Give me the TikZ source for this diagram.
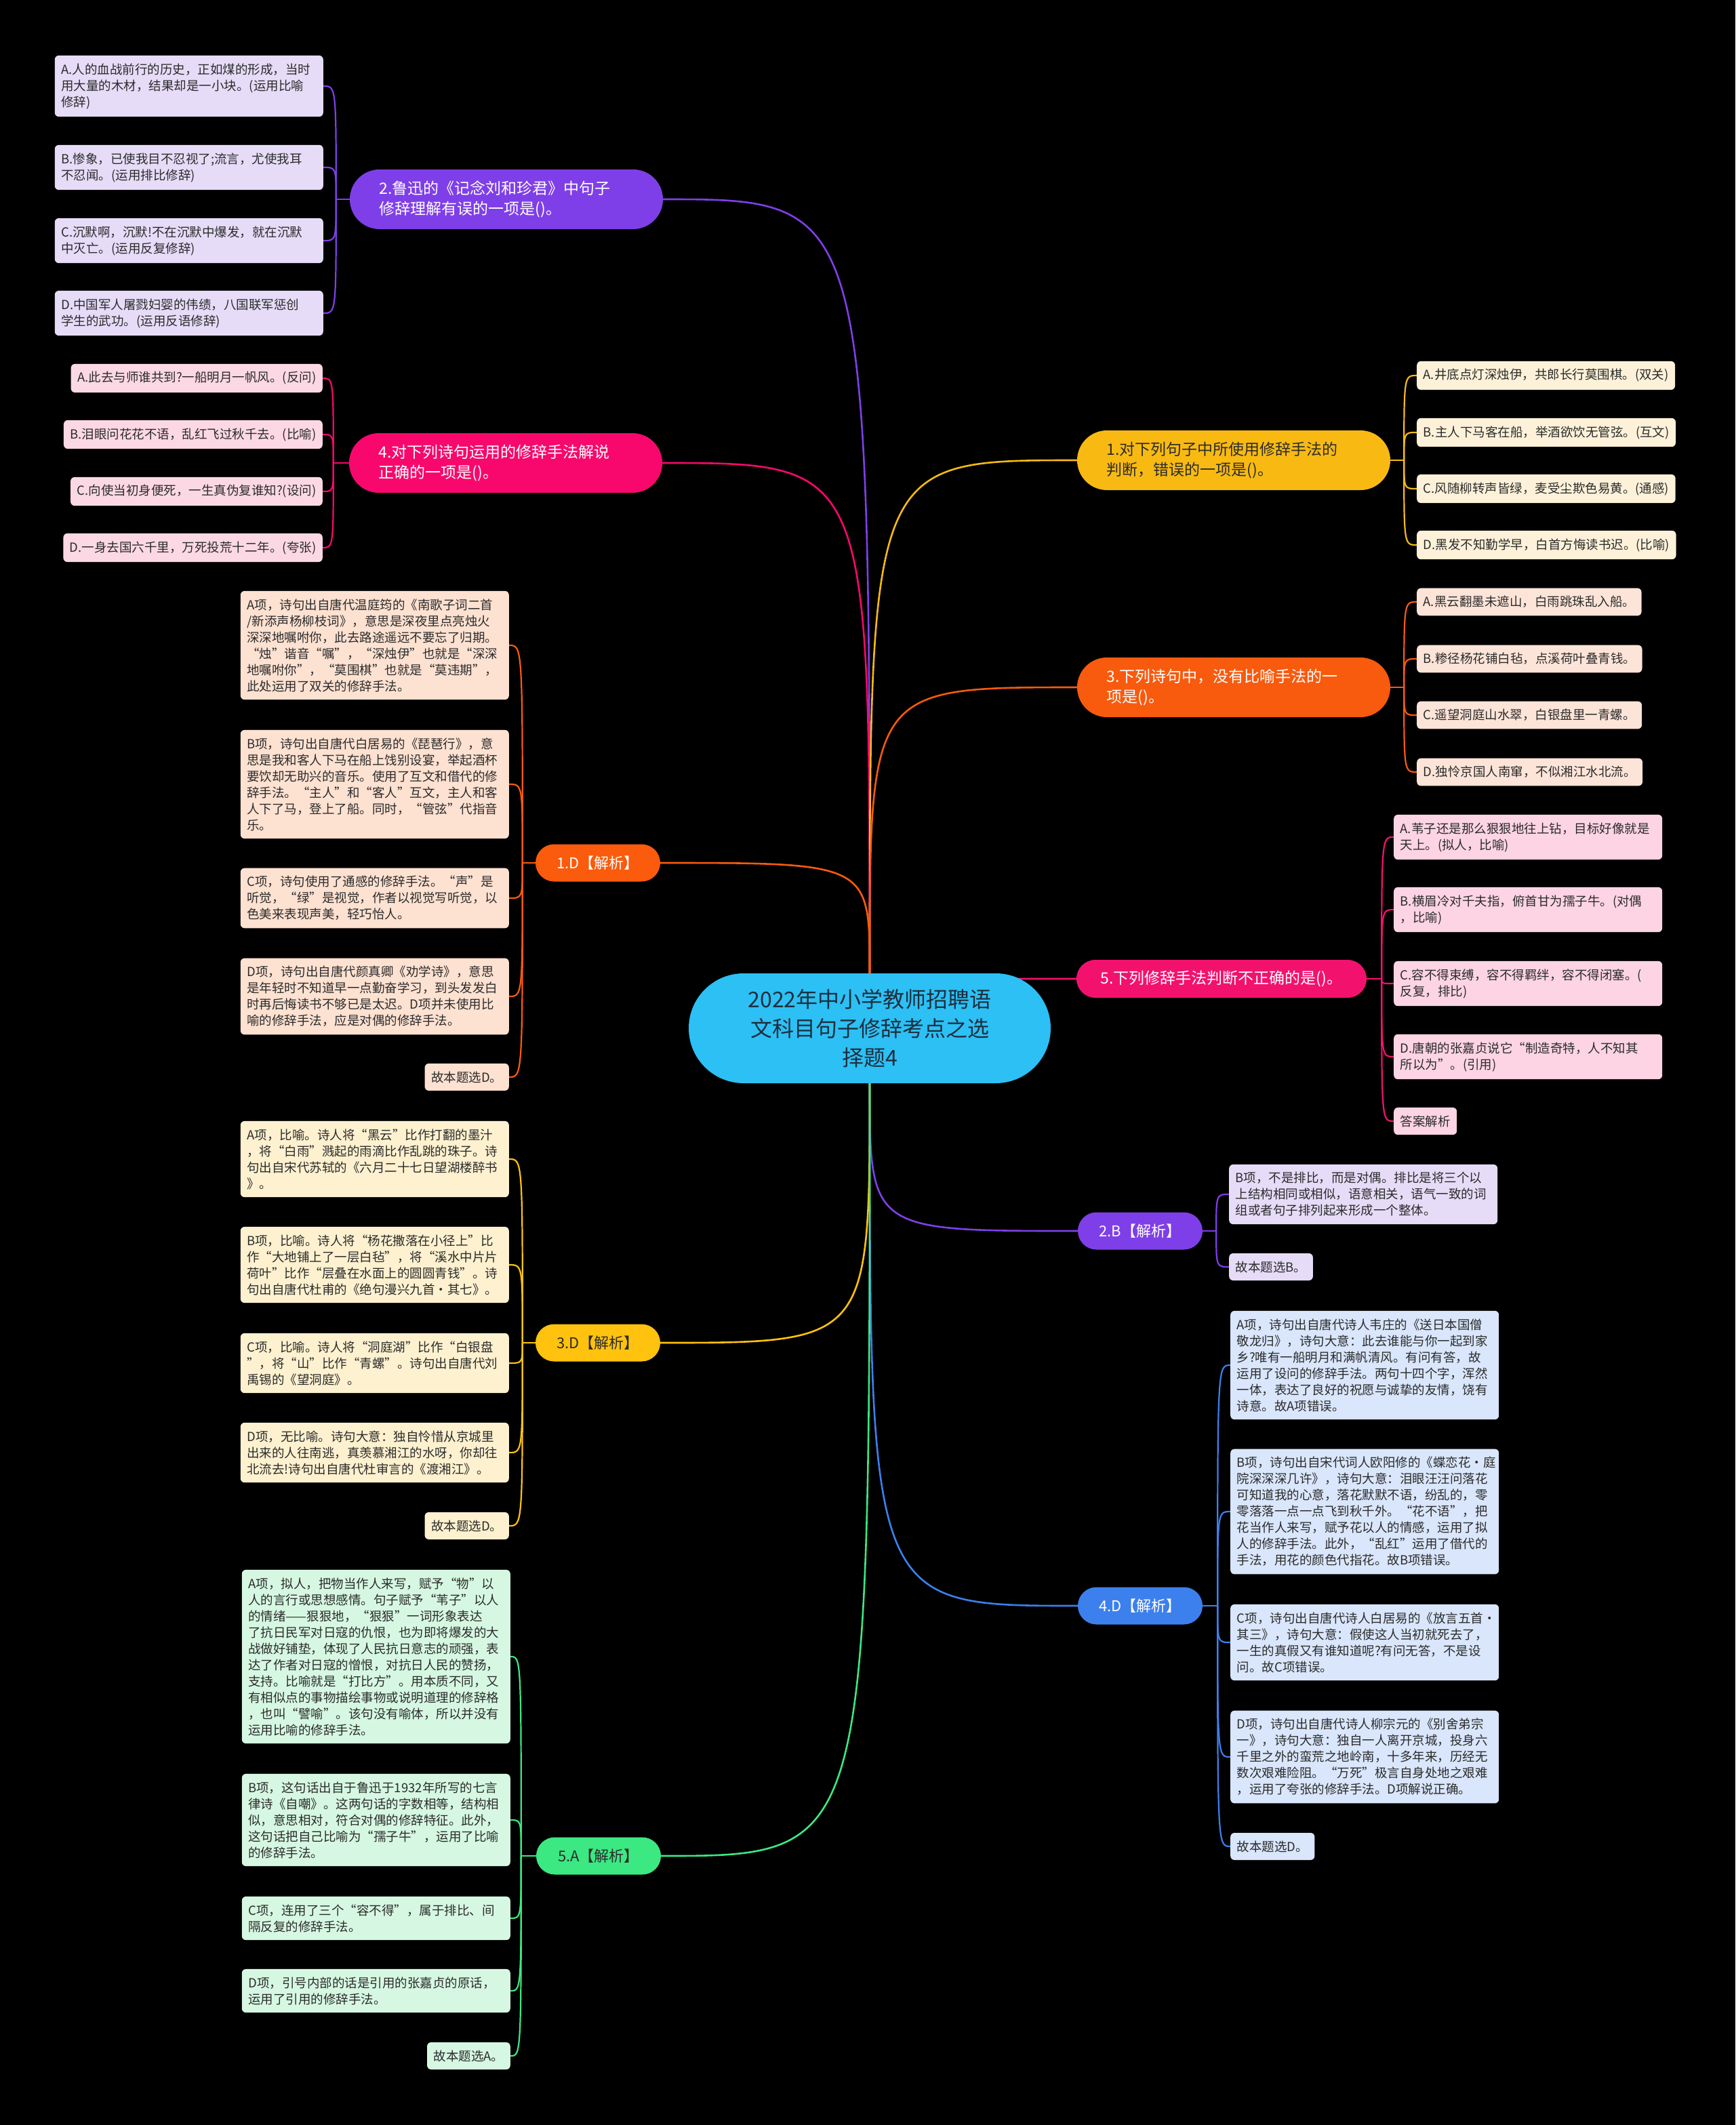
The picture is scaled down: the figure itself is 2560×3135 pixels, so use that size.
\documentclass[tikz,border=0pt]{standalone}
\usepackage{fontspec}
\setmainfont{Noto Sans CJK SC}
\usepackage{tikz}
\usetikzlibrary{shapes.misc, backgrounds, positioning, calc}
\definecolor{cyanroot}{HTML}{2CC0F4}
\definecolor{rootink}{HTML}{1D2E3E}
\definecolor{ink}{HTML}{2B2B2B}
\definecolor{purp}{HTML}{7F3FE8}
\definecolor{purpleaf}{HTML}{E6DCF8}
\definecolor{rose}{HTML}{F8086C}
\definecolor{roseleaf}{HTML}{FCD8E5}
\definecolor{gold}{HTML}{F8BA12}
\definecolor{goldleaf}{HTML}{FDF2D9}
\definecolor{tang}{HTML}{F85A0E}
\definecolor{tangleaf}{HTML}{FDE4D8}
\definecolor{pinkred}{HTML}{F2126E}
\definecolor{pinkleaf}{HTML}{FCD4E3}
\definecolor{blu}{HTML}{3C80EE}
\definecolor{bluleaf}{HTML}{D9E6FB}
\definecolor{grn}{HTML}{3BE882}
\definecolor{grnleaf}{HTML}{D6F8E2}
\definecolor{amber}{HTML}{FFC20E}
\definecolor{amberleaf}{HTML}{FDF1CF}
\definecolor{flame}{HTML}{FA5B0C}
\definecolor{flameleaf}{HTML}{FDE1D1}
\tikzset{
	rootnode/.style={rounded rectangle, fill=cyanroot, text=rootink, align=center,
			inner xsep=2pt, minimum width=538pt, minimum height=162pt,
			font=\fontsize{32}{43}\selectfont}
}
\tikzset{
	topicnode/.style={rounded rectangle, fill=#1, inner xsep=2pt, minimum width=466pt,
			minimum height=88pt, text width=375pt, align=left,
			font=\fontsize{23}{30}\selectfont}
}
\tikzset{
	questnode/.style={rounded rectangle, fill=#1, inner xsep=2pt, minimum width=432pt,
			minimum height=56pt, font=\fontsize{23}{30}\selectfont}
}
\tikzset{
	keynode/.style={rounded rectangle, fill=#1, inner xsep=2pt, minimum width=188pt,
			minimum height=55pt, font=\fontsize{22}{26}\selectfont}
}
\tikzset{
	leafnode/.style={rectangle, rounded corners=6pt, fill=#1, text=ink, inner xsep=9.5pt,
			inner ysep=11.5pt, align=left, font=\fontsize{18.5}{24}\selectfont}
}
\tikzset{
	wideleaf/.style={text width=377pt}
}
\tikzset{
	branchline/.style={line width=2.6pt, #1}
}
\tikzset{
	twigline/.style={line width=2.2pt, #1}
}

\begin{document}
\begin{tikzpicture}[x=1pt, y=-1pt]

			\begin{scope}[on background layer]
				\fill[black] (0,0) rectangle (2560,3135);
			\end{scope}
			\useasboundingbox (0,0) rectangle (2560,3135);

			\node[rootnode] (c) at (1283,1517) {2022年中小学教师招聘语\\文科目句子修辞考点之选\\择题4};

			\begin{scope}
				\node[topicnode=purp, text=white] (n2) at (747,294) {2.鲁迅的《记念刘和珍君》中句子\\修辞理解有误的一项是()。};
				\node[topicnode=rose, text=white] (n4) at (746,683) {4.对下列诗句运用的修辞手法解说\\正确的一项是()。};
				\node[topicnode=gold, text=ink] (n1) at (1820,679) {1.对下列句子中所使用修辞手法的\\判断，错误的一项是()。};
				\node[topicnode=tang, text=white] (n3) at (1820,1014) {3.下列诗句中，没有比喻手法的一\\项是()。};
				\node[questnode=pinkred, text=white] (n5) at (1802,1444) {5.下列修辞手法判断不正确的是()。};

				\node[keynode=purp, text=white] (nb2) at (1682,1816) {2.B【解析】};
				\node[keynode=blu, text=white] (nd4) at (1682,2369) {4.D【解析】};
				\node[keynode=flame, text=white] (nd1) at (882,1273) {1.D【解析】};
				\node[keynode=amber, text=ink] (nd3) at (882,1981) {3.D【解析】};
				\node[keynode=grn, text=ink] (na5) at (883,2738) {5.A【解析】};
			\end{scope}

			\begin{scope}
				\node[leafnode=purpleaf, wideleaf, anchor=east] (n2a) at (477,127) {A.人的血战前行的历史，正如煤的形成，当时\\用大量的木材，结果却是一小块。(运用比喻\\修辞)};
				\node[leafnode=purpleaf, wideleaf, anchor=east] (n2b) at (477,247) {B.惨象，已使我目不忍视了;流言，尤使我耳\\不忍闻。(运用排比修辞)};
				\node[leafnode=purpleaf, wideleaf, anchor=east] (n2c) at (477,355) {C.沉默啊，沉默!不在沉默中爆发，就在沉默\\中灭亡。(运用反复修辞)};
				\node[leafnode=purpleaf, wideleaf, anchor=east] (n2d) at (477,462) {D.中国军人屠戮妇婴的伟绩，八国联军惩创\\学生的武功。(运用反语修辞)};

				\node[leafnode=roseleaf, anchor=east] (n4a) at (476,558) {A.此去与师谁共到?一船明月一帆风。(反问)};
				\node[leafnode=roseleaf, anchor=east] (n4b) at (476,641) {B.泪眼问花花不语，乱红飞过秋千去。(比喻)};
				\node[leafnode=roseleaf, anchor=east] (n4c) at (476,725) {C.向使当初身便死，一生真伪复谁知?(设问)};
				\node[leafnode=roseleaf, anchor=east] (n4d) at (476,808) {D.一身去国六千里，万死投荒十二年。(夸张)};
			\end{scope}

			\begin{scope}
				\node[leafnode=goldleaf, anchor=west] (n1a) at (2090,554) {A.井底点灯深烛伊，共郎长行莫围棋。(双关)};
				\node[leafnode=goldleaf, anchor=west] (n1b) at (2090,638) {B.主人下马客在船，举酒欲饮无管弦。(互文)};
				\node[leafnode=goldleaf, anchor=west] (n1c) at (2090,721) {C.风随柳转声皆绿，麦受尘欺色易黄。(通感)};
				\node[leafnode=goldleaf, anchor=west] (n1d) at (2090,804) {D.黑发不知勤学早，白首方悔读书迟。(比喻)};

				\node[leafnode=tangleaf, anchor=west] (n3a) at (2090,888) {A.黑云翻墨未遮山，白雨跳珠乱入船。};
				\node[leafnode=tangleaf, anchor=west] (n3b) at (2090,972) {B.糁径杨花铺白毡，点溪荷叶叠青钱。};
				\node[leafnode=tangleaf, anchor=west] (n3c) at (2090,1055) {C.遥望洞庭山水翠，白银盘里一青螺。};
				\node[leafnode=tangleaf, anchor=west] (n3d) at (2090,1139) {D.独怜京国人南窜，不似湘江水北流。};

				\node[leafnode=pinkleaf, wideleaf, anchor=west] (n5a) at (2056,1235) {A.苇子还是那么狠狠地往上钻，目标好像就是\\天上。(拟人，比喻)};
				\node[leafnode=pinkleaf, wideleaf, anchor=west] (n5b) at (2056,1342) {B.横眉冷对千夫指，俯首甘为孺子牛。(对偶\\，比喻)};
				\node[leafnode=pinkleaf, wideleaf, anchor=west] (n5c) at (2056,1451) {C.容不得束缚，容不得羁绊，容不得闭塞。(\\反复，排比)};
				\node[leafnode=pinkleaf, wideleaf, anchor=west] (n5d) at (2056,1559) {D.唐朝的张嘉贞说它“制造奇特，人不知其\\所以为”。(引用)};
				\node[leafnode=pinkleaf, anchor=west] (n5e) at (2056,1654) {答案解析};
			\end{scope}

			\begin{scope}
				\node[leafnode=purpleaf, wideleaf, anchor=west] (nb2a) at (1813,1762) {B项，不是排比，而是对偶。排比是将三个以\\上结构相同或相似，语意相关，语气一致的词\\组或者句子排列起来形成一个整体。};
				\node[leafnode=purpleaf, anchor=west] (nb2b) at (1813,1869) {故本题选B。};

				\node[leafnode=bluleaf, wideleaf, anchor=west] (nd4a) at (1815,2014) {A项，诗句出自唐代诗人韦庄的《送日本国僧\\敬龙归》，诗句大意：此去谁能与你一起到家\\乡?唯有一船明月和满帆清风。有问有答，故\\运用了设问的修辞手法。两句十四个字，浑然\\一体，表达了良好的祝愿与诚挚的友情，饶有\\诗意。故A项错误。};
				\node[leafnode=bluleaf, wideleaf, anchor=west] (nd4b) at (1815,2230) {B项，诗句出自宋代词人欧阳修的《蝶恋花·庭\\院深深深几许》，诗句大意：泪眼汪汪问落花\\可知道我的心意，落花默默不语，纷乱的，零\\零落落一点一点飞到秋千外。“花不语”，把\\花当作人来写，赋予花以人的情感，运用了拟\\人的修辞手法。此外，“乱红”运用了借代的\\手法，用花的颜色代指花。故B项错误。};
				\node[leafnode=bluleaf, wideleaf, anchor=west] (nd4c) at (1815,2423) {C项，诗句出自唐代诗人白居易的《放言五首·\\其三》，诗句大意：假使这人当初就死去了，\\一生的真假又有谁知道呢?有问无答，不是设\\问。故C项错误。};
				\node[leafnode=bluleaf, wideleaf, anchor=west] (nd4d) at (1815,2592) {D项，诗句出自唐代诗人柳宗元的《别舍弟宗\\一》，诗句大意：独自一人离开京城，投身六\\千里之外的蛮荒之地岭南，十多年来，历经无\\数次艰难险阻。“万死”极言自身处地之艰难\\，运用了夸张的修辞手法。D项解说正确。};
				\node[leafnode=bluleaf, anchor=west] (nd4e) at (1815,2724) {故本题选D。};
			\end{scope}

			\begin{scope}
				\node[leafnode=flameleaf, wideleaf, anchor=east] (nd1a) at (751,952) {A项，诗句出自唐代温庭筠的《南歌子词二首\\/新添声杨柳枝词》，意思是深夜里点亮烛火\\深深地嘱咐你，此去路途遥远不要忘了归期。\\“烛”谐音“嘱”，“深烛伊”也就是“深深\\地嘱咐你”，“莫围棋”也就是“莫违期”，\\此处运用了双关的修辞手法。};
				\node[leafnode=flameleaf, wideleaf, anchor=east] (nd1b) at (751,1157) {B项，诗句出自唐代白居易的《琵琶行》，意\\思是我和客人下马在船上饯别设宴，举起酒杯\\要饮却无助兴的音乐。使用了互文和借代的修\\辞手法。“主人”和“客人”互文，主人和客\\人下了马，登上了船。同时，“管弦”代指音\\乐。};
				\node[leafnode=flameleaf, wideleaf, anchor=east] (nd1c) at (751,1325) {C项，诗句使用了通感的修辞手法。“声”是\\听觉，“绿”是视觉，作者以视觉写听觉，以\\色美来表现声美，轻巧怡人。};
				\node[leafnode=flameleaf, wideleaf, anchor=east] (nd1d) at (751,1470) {D项，诗句出自唐代颜真卿《劝学诗》，意思\\是年轻时不知道早一点勤奋学习，到头发发白\\时再后悔读书不够已是太迟。D项并未使用比\\喻的修辞手法，应是对偶的修辞手法。};
				\node[leafnode=flameleaf, anchor=east] (nd1e) at (751,1589) {故本题选D。};

				\node[leafnode=amberleaf, wideleaf, anchor=east] (nd3a) at (751,1710) {A项，比喻。诗人将“黑云”比作打翻的墨汁\\，将“白雨”溅起的雨滴比作乱跳的珠子。诗\\句出自宋代苏轼的《六月二十七日望湖楼醉书\\》。};
				\node[leafnode=amberleaf, wideleaf, anchor=east] (nd3b) at (751,1866) {B项，比喻。诗人将“杨花撒落在小径上”比\\作“大地铺上了一层白毡”，将“溪水中片片\\荷叶”比作“层叠在水面上的圆圆青钱”。诗\\句出自唐代杜甫的《绝句漫兴九首·其七》。};
				\node[leafnode=amberleaf, wideleaf, anchor=east] (nd3c) at (751,2011) {C项，比喻。诗人将“洞庭湖”比作“白银盘\\”，将“山”比作“青螺”。诗句出自唐代刘\\禹锡的《望洞庭》。};
				\node[leafnode=amberleaf, wideleaf, anchor=east] (nd3d) at (751,2143) {D项，无比喻。诗句大意：独自怜惜从京城里\\出来的人往南逃，真羡慕湘江的水呀，你却往\\北流去!诗句出自唐代杜审言的《渡湘江》。};
				\node[leafnode=amberleaf, anchor=east] (nd3e) at (751,2251) {故本题选D。};

				\node[leafnode=grnleaf, wideleaf, anchor=east] (na5a) at (753,2444) {A项，拟人，把物当作人来写，赋予“物”以\\人的言行或思想感情。句子赋予“苇子”以人\\的情绪——狠狠地，“狠狠”一词形象表达\\了抗日民军对日寇的仇恨，也为即将爆发的大\\战做好铺垫，体现了人民抗日意志的顽强，表\\达了作者对日寇的憎恨，对抗日人民的赞扬，\\支持。比喻就是“打比方”。用本质不同，又\\有相似点的事物描绘事物或说明道理的修辞格\\，也叫“譬喻”。该句没有喻体，所以并没有\\运用比喻的修辞手法。};
				\node[leafnode=grnleaf, wideleaf, anchor=east] (na5b) at (753,2685) {B项，这句话出自于鲁迅于1932年所写的七言\\律诗《自嘲》。这两句话的字数相等，结构相\\似，意思相对，符合对偶的修辞特征。此外，\\这句话把自己比喻为“孺子牛”，运用了比喻\\的修辞手法。};
				\node[leafnode=grnleaf, wideleaf, anchor=east] (na5c) at (753,2830) {C项，连用了三个“容不得”，属于排比、间\\隔反复的修辞手法。};
				\node[leafnode=grnleaf, wideleaf, anchor=east] (na5d) at (753,2937) {D项，引号内部的话是引用的张嘉贞的原话，\\运用了引用的修辞手法。};
				\node[leafnode=grnleaf, anchor=east] (na5e) at (753,3033) {故本题选A。};
			\end{scope}

			\coordinate (j2) at ([xshift=-20pt]n2.west);
			\coordinate (j4) at ([xshift=-23pt]n4.west);
			\coordinate (j1) at ([xshift=20pt]n1.east);
			\coordinate (j3) at ([xshift=20pt]n3.east);
			\coordinate (j5) at ([xshift=22pt]n5.east);
			\coordinate (jb2) at ([xshift=20pt]nb2.east);
			\coordinate (jd4) at ([xshift=22pt]nd4.east);
			\coordinate (jd1) at ([xshift=-19pt]nd1.west);
			\coordinate (jd3) at ([xshift=-19pt]nd3.west);
			\coordinate (ja5) at ([xshift=-22pt]na5.west);

			\begin{scope}[on background layer]
				\draw[branchline=purp] (c.north) .. controls (c.north |- n2.east) .. (n2.east);
				\draw[branchline=rose] (c.north) .. controls (c.north |- n4.east) .. (n4.east);
				\draw[branchline=gold] (c.north) .. controls (c.north |- n1.west) .. (n1.west);
				\draw[branchline=tang] (c.north) .. controls (c.north |- n3.west) .. (n3.west);
				\draw[branchline=pinkred] (c.north) .. controls (c.north |- n5.west) .. (n5.west);
				\draw[branchline=flame] (c.north) .. controls (c.north |- nd1.east) .. (nd1.east);
				\draw[branchline=purp] (c.south) .. controls (c.south |- nb2.west) .. (nb2.west);
				\draw[branchline=blu] (c.south) .. controls (c.south |- nd4.west) .. (nd4.west);
				\draw[branchline=amber] (c.south) .. controls (c.south |- nd3.east) .. (nd3.east);
				\draw[branchline=grn] (c.south) .. controls (c.south |- na5.east) .. (na5.east);

				\draw[twigline=purp] (n2.west) -- (j2);
				\draw[twigline=purp] (j2) .. controls (j2 |- n2a.east) .. (n2a.east);
				\draw[twigline=purp] (j2) .. controls (j2 |- n2b.east) .. (n2b.east);
				\draw[twigline=purp] (j2) .. controls (j2 |- n2c.east) .. (n2c.east);
				\draw[twigline=purp] (j2) .. controls (j2 |- n2d.east) .. (n2d.east);

				\draw[twigline=rose] (n4.west) -- (j4);
				\draw[twigline=rose] (j4) .. controls (j4 |- n4a.east) .. (n4a.east);
				\draw[twigline=rose] (j4) .. controls (j4 |- n4b.east) .. (n4b.east);
				\draw[twigline=rose] (j4) .. controls (j4 |- n4c.east) .. (n4c.east);
				\draw[twigline=rose] (j4) .. controls (j4 |- n4d.east) .. (n4d.east);

				\draw[twigline=gold] (n1.east) -- (j1);
				\draw[twigline=gold] (j1) .. controls (j1 |- n1a.west) .. (n1a.west);
				\draw[twigline=gold] (j1) .. controls (j1 |- n1b.west) .. (n1b.west);
				\draw[twigline=gold] (j1) .. controls (j1 |- n1c.west) .. (n1c.west);
				\draw[twigline=gold] (j1) .. controls (j1 |- n1d.west) .. (n1d.west);

				\draw[twigline=tang] (n3.east) -- (j3);
				\draw[twigline=tang] (j3) .. controls (j3 |- n3a.west) .. (n3a.west);
				\draw[twigline=tang] (j3) .. controls (j3 |- n3b.west) .. (n3b.west);
				\draw[twigline=tang] (j3) .. controls (j3 |- n3c.west) .. (n3c.west);
				\draw[twigline=tang] (j3) .. controls (j3 |- n3d.west) .. (n3d.west);

				\draw[twigline=pinkred] (n5.east) -- (j5);
				\draw[twigline=pinkred] (j5) .. controls (j5 |- n5a.west) .. (n5a.west);
				\draw[twigline=pinkred] (j5) .. controls (j5 |- n5b.west) .. (n5b.west);
				\draw[twigline=pinkred] (j5) .. controls (j5 |- n5c.west) .. (n5c.west);
				\draw[twigline=pinkred] (j5) .. controls (j5 |- n5d.west) .. (n5d.west);
				\draw[twigline=pinkred] (j5) .. controls (j5 |- n5e.west) .. (n5e.west);

				\draw[twigline=purp] (nb2.east) -- (jb2);
				\draw[twigline=purp] (jb2) .. controls (jb2 |- nb2a.west) .. (nb2a.west);
				\draw[twigline=purp] (jb2) .. controls (jb2 |- nb2b.west) .. (nb2b.west);

				\draw[twigline=blu] (nd4.east) -- (jd4);
				\draw[twigline=blu] (jd4) .. controls (jd4 |- nd4a.west) .. (nd4a.west);
				\draw[twigline=blu] (jd4) .. controls (jd4 |- nd4b.west) .. (nd4b.west);
				\draw[twigline=blu] (jd4) .. controls (jd4 |- nd4c.west) .. (nd4c.west);
				\draw[twigline=blu] (jd4) .. controls (jd4 |- nd4d.west) .. (nd4d.west);
				\draw[twigline=blu] (jd4) .. controls (jd4 |- nd4e.west) .. (nd4e.west);

				\draw[twigline=flame] (nd1.west) -- (jd1);
				\draw[twigline=flame] (jd1) .. controls (jd1 |- nd1a.east) .. (nd1a.east);
				\draw[twigline=flame] (jd1) .. controls (jd1 |- nd1b.east) .. (nd1b.east);
				\draw[twigline=flame] (jd1) .. controls (jd1 |- nd1c.east) .. (nd1c.east);
				\draw[twigline=flame] (jd1) .. controls (jd1 |- nd1d.east) .. (nd1d.east);
				\draw[twigline=flame] (jd1) .. controls (jd1 |- nd1e.east) .. (nd1e.east);

				\draw[twigline=amber] (nd3.west) -- (jd3);
				\draw[twigline=amber] (jd3) .. controls (jd3 |- nd3a.east) .. (nd3a.east);
				\draw[twigline=amber] (jd3) .. controls (jd3 |- nd3b.east) .. (nd3b.east);
				\draw[twigline=amber] (jd3) .. controls (jd3 |- nd3c.east) .. (nd3c.east);
				\draw[twigline=amber] (jd3) .. controls (jd3 |- nd3d.east) .. (nd3d.east);
				\draw[twigline=amber] (jd3) .. controls (jd3 |- nd3e.east) .. (nd3e.east);

				\draw[twigline=grn] (na5.west) -- (ja5);
				\draw[twigline=grn] (ja5) .. controls (ja5 |- na5a.east) .. (na5a.east);
				\draw[twigline=grn] (ja5) .. controls (ja5 |- na5b.east) .. (na5b.east);
				\draw[twigline=grn] (ja5) .. controls (ja5 |- na5c.east) .. (na5c.east);
				\draw[twigline=grn] (ja5) .. controls (ja5 |- na5d.east) .. (na5d.east);
				\draw[twigline=grn] (ja5) .. controls (ja5 |- na5e.east) .. (na5e.east);
			\end{scope}

		\end{tikzpicture}
\end{document}
